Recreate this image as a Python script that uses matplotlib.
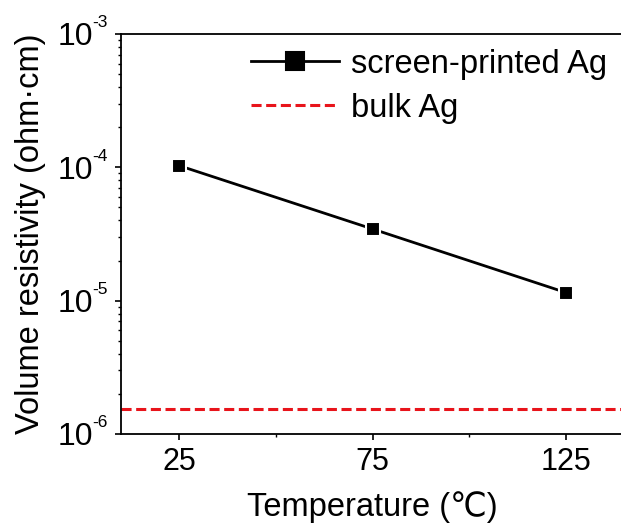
import numpy as np
import matplotlib
matplotlib.use("Agg")
import matplotlib.pyplot as plt
from matplotlib.ticker import FixedLocator, LogLocator, NullFormatter

plt.rcParams['font.family'] = ['Liberation Sans', 'DejaVu Sans']

# --- data ---
temperature = [25, 75, 125]
resistivity = [1.03e-4, 3.45e-5, 1.15e-5]
bulk_ag = 1.55e-6
x_ticks = [25, 75, 125]
x_minor = [50, 100]
y_decades = [-6, -5, -4, -3]

# --- plot ---
fig = plt.figure(figsize=(6.21, 5.25), dpi=100)
ax = fig.add_axes([121 / 621, 91 / 525, 503 / 621, 400 / 525])

ax.plot(temperature, resistivity, color="black", linewidth=2, marker="s",
        markersize=10.5, markerfacecolor="black", markeredgecolor="white",
        markeredgewidth=1.5, label="screen-printed Ag")
ax.axhline(bulk_ag, color="#e8141b", linestyle=(0, (3.3, 1.5)), linewidth=2.2,
           label="bulk Ag")

ax.set_yscale("log")
ax.set_ylim(1e-6, 1e-3)
ax.set_xlim(10, 140)
ax.xaxis.set_major_locator(FixedLocator(x_ticks))
ax.xaxis.set_minor_locator(FixedLocator(x_minor))
ax.yaxis.set_major_locator(FixedLocator([10.0 ** d for d in y_decades]))
ax.yaxis.set_major_formatter(NullFormatter())
ax.yaxis.set_minor_locator(LogLocator(base=10, subs=np.arange(2, 10)))
ax.yaxis.set_minor_formatter(NullFormatter())

ax.tick_params(which="major", direction="out", length=4.5, width=1.2,
               labelsize=22, pad=5)
ax.tick_params(which="minor", direction="out", length=2.5, width=1)
for s in ax.spines.values():
    s.set_linewidth(1.3)

# y tick labels as 10 with a small superscript exponent
for d in y_decades:
    ax.annotate("10", xy=(0, 10.0 ** d), xycoords=("axes fraction", "data"),
                xytext=(-20, 0), textcoords="offset points",
                ha="right", va="center_baseline", fontsize=23)
    ax.annotate(str(d), xy=(0, 10.0 ** d), xycoords=("axes fraction", "data"),
                xytext=(-20.5, 9), textcoords="offset points",
                ha="left", va="center_baseline", fontsize=12.5)

ax.set_xlabel("Temperature (℃)", fontsize=23.5, labelpad=10)
ax.set_ylabel("Volume resistivity (ohm·cm)", fontsize=23.5)
ax.yaxis.set_label_coords(-0.149, 0.5)

leg = ax.legend(loc="upper left", bbox_to_anchor=(0.229, 1.0), frameon=False,
                fontsize=23.5, handlelength=2.7, handletextpad=0.37,
                labelspacing=0.4, borderaxespad=0.05)
for line in leg.get_lines():
    line.set_markeredgecolor("black")
    line.set_markersize(13.5)

fig.savefig("out.png", dpi=100)
